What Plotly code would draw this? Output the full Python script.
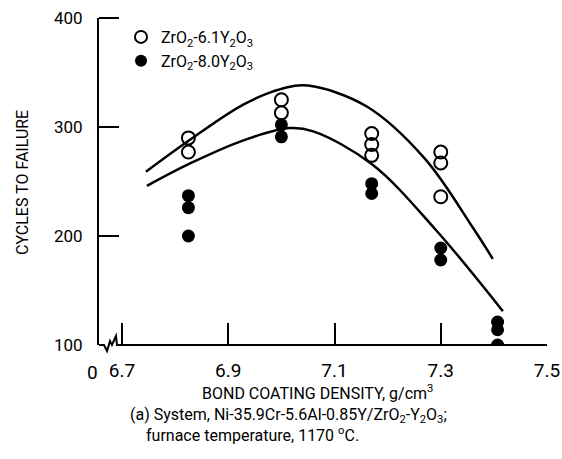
import plotly.graph_objects as go

# ---- data ----
density_61 = [6.825, 6.825, 7.00, 7.00, 7.17, 7.17, 7.17, 7.30, 7.30, 7.30]
cycles_61 = [290, 277, 325, 313, 294, 284, 274, 277, 267, 236]

density_80 = [6.825, 6.825, 6.825, 7.00, 7.00, 7.17, 7.17, 7.30, 7.30, 7.407, 7.407, 7.407]
cycles_80 = [237, 226, 200, 302, 291, 248, 239, 189, 178, 121, 114, 100]

upper_x = [6.745, 6.83, 6.93, 7.00, 7.05, 7.16, 7.27, 7.36, 7.398]
upper_y = [259, 289, 321, 335, 338, 319, 271, 208, 179]
lower_x = [6.747, 6.83, 6.93, 7.015, 7.06, 7.17, 7.29, 7.417]
lower_y = [246, 267, 288, 299, 296, 266, 206, 131]

x_tick_vals = [6.7, 6.9, 7.1, 7.3, 7.5]
x_tick_text = ["6.7", "6.9", "7.1", "7.3", "7.5"]
y_tick_vals = [100, 200, 300, 400]
y_tick_text = ["100", "200", "300", "400"]

X0, X1 = 6.6567, 7.5
Y0, Y1 = 100, 400

FONT = "Roboto, Liberation Sans, sans-serif"

# plot area in pixels
PL, PR, PT, PB = 99, 547, 18, 345
PW, PH = PR - PL, PB - PT


def px(x):
    return (x - PL) / PW


def py(y):
    return (PB - y) / PH


fig = go.Figure()

fig.add_trace(go.Scatter(x=upper_x, y=upper_y, mode="lines",
                         line=dict(color="black", width=2.5, shape="spline", smoothing=1.0),
                         showlegend=False, hoverinfo="skip"))
fig.add_trace(go.Scatter(x=lower_x, y=lower_y, mode="lines",
                         line=dict(color="black", width=2.5, shape="spline", smoothing=1.0),
                         showlegend=False, hoverinfo="skip"))

fig.add_trace(go.Scatter(x=density_61, y=cycles_61, mode="markers",
                         name="ZrO<sub>2</sub>-6.1Y<sub>2</sub>O<sub>3</sub>",
                         marker=dict(symbol="circle-open", size=13, color="black",
                                     line=dict(width=2, color="black"))))
fig.add_trace(go.Scatter(x=density_80, y=cycles_80, mode="markers",
                         name="ZrO<sub>2</sub>-8.0Y<sub>2</sub>O<sub>3</sub>",
                         marker=dict(symbol="circle", size=13, color="black")))

# x axis line with break zigzag (paper coords, not clipped)
pts = [(99, 345), (104, 345), (107, 351), (110, 341), (112, 345), (116, 336), (117, 345), (547, 345)]
path = "M " + " L ".join("{:.4f} {:.4f}".format(px(a), py(b)) for a, b in pts)
shapes = [dict(type="path", path=path, xref="paper", yref="paper",
               line=dict(color="black", width=2))]
# y ticks (inside, pointing right)
for v in [200, 300, 400]:
    yy = (v - Y0) / (Y1 - Y0)
    shapes.append(dict(type="line", xref="paper", yref="paper", x0=0, x1=px(119), y0=yy, y1=yy,
                       line=dict(color="black", width=2)))

fig.update_layout(
    width=562, height=459,
    margin=dict(l=PL, r=562 - PR, t=PT, b=459 - PB, autoexpand=False),
    paper_bgcolor="white", plot_bgcolor="white",
    font=dict(family=FONT, color="black", size=15),
    shapes=shapes,
    showlegend=True,
    legend=dict(x=px(121), y=py(20), xanchor="left", yanchor="top",
                bgcolor="rgba(0,0,0,0)", font=dict(size=16, family=FONT),
                itemsizing="constant", tracegroupgap=0),
    xaxis=dict(range=[X0, X1], showline=False, showgrid=False, zeroline=False,
               tickvals=x_tick_vals, ticktext=x_tick_text,
               ticks="inside", ticklen=22, tickwidth=2, tickcolor="black",
               ticklabelstandoff=12, tickfont=dict(size=19)),
    yaxis=dict(range=[Y0, Y1], showline=True, linecolor="black", linewidth=2,
               showgrid=False, zeroline=False,
               tickvals=y_tick_vals, ticktext=y_tick_text, ticks="",
               ticklabelstandoff=11, tickfont=dict(size=17)),
    annotations=[
        dict(text="0", x=px(92), y=0, xref="paper", yref="paper",
             xanchor="center", yanchor="top", yshift=-14, showarrow=False,
             font=dict(size=19)),
        dict(text="CYCLES TO FAILURE", x=px(22), y=py(183),
             xref="paper", yref="paper", textangle=-90, showarrow=False,
             xanchor="center", yanchor="middle", font=dict(size=16)),
        dict(text="BOND COATING DENSITY, g/cm<sup>3</sup>", x=px(317),
             y=py(392), xref="paper", yref="paper", showarrow=False,
             xanchor="center", yanchor="middle", font=dict(size=16)),
        dict(text="(a) System, Ni-35.9Cr-5.6Al-0.85Y/ZrO<sub>2</sub>-Y<sub>2</sub>O<sub>3</sub>;",
             x=px(128), y=py(415), xref="paper", yref="paper",
             showarrow=False, xanchor="left", yanchor="middle", font=dict(size=16)),
        dict(text="furnace temperature, 1170 <sup>o</sup>C.",
             x=px(144), y=py(434), xref="paper", yref="paper",
             showarrow=False, xanchor="left", yanchor="middle", font=dict(size=16)),
    ],
)

fig.write_html("out.html", config={"displayModeBar": False},
               post_script="document.body.style.margin='0';")
